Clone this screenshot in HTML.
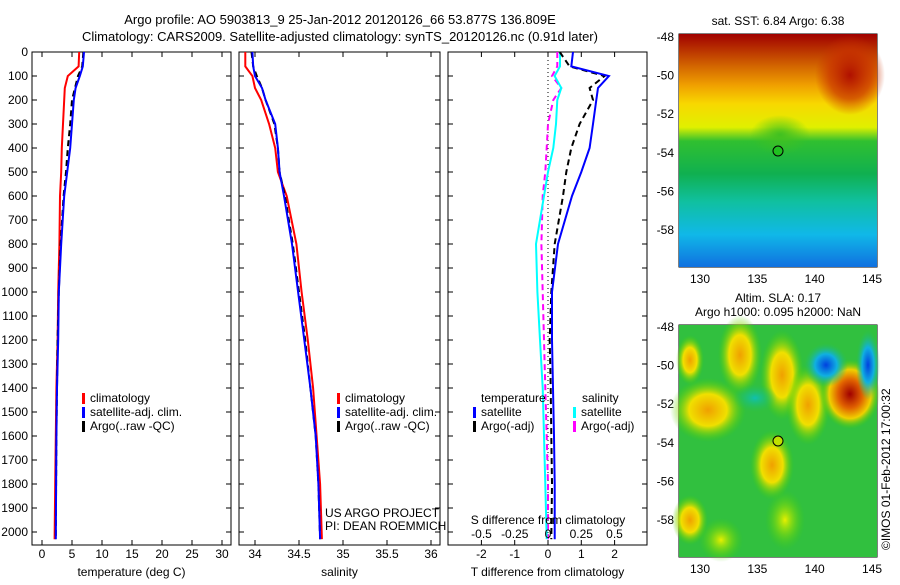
<!DOCTYPE html>
<html><head><meta charset="utf-8"><style>
body{margin:0;background:#fff;width:900px;height:580px;overflow:hidden}
svg{font-family:"Liberation Sans",sans-serif;font-size:12px}
</style></head><body>
<svg id="c" width="900" height="580">
<defs>
<linearGradient id="sst" x1="0" y1="0" x2="0" y2="1">
<stop offset="0" stop-color="#a00000"/><stop offset="0.13" stop-color="#d06000"/><stop offset="0.22" stop-color="#f0a000"/><stop offset="0.3" stop-color="#f8d800"/><stop offset="0.4" stop-color="#e0f000"/><stop offset="0.46" stop-color="#30c030"/><stop offset="0.6" stop-color="#10b050"/><stop offset="0.72" stop-color="#10c0a0"/><stop offset="0.86" stop-color="#10b8e8"/><stop offset="1" stop-color="#1070e0"/>
</linearGradient>
<radialGradient id="hot"><stop offset="0" stop-color="#a00000"/><stop offset="0.4" stop-color="#e06000"/><stop offset="0.7" stop-color="#f0d000"/><stop offset="1" stop-color="#40d000" stop-opacity="0"/></radialGradient>
<radialGradient id="warm"><stop offset="0" stop-color="#f0a000"/><stop offset="0.5" stop-color="#f0e000"/><stop offset="1" stop-color="#40d000" stop-opacity="0"/></radialGradient>
<radialGradient id="yel"><stop offset="0" stop-color="#e8f000"/><stop offset="1" stop-color="#40d000" stop-opacity="0"/></radialGradient>
<radialGradient id="cold"><stop offset="0" stop-color="#0040e0"/><stop offset="0.5" stop-color="#10b0e0"/><stop offset="1" stop-color="#20c060" stop-opacity="0"/></radialGradient>
<radialGradient id="teal"><stop offset="0" stop-color="#10c0b0"/><stop offset="1" stop-color="#20c060" stop-opacity="0"/></radialGradient>
<radialGradient id="red"><stop offset="0" stop-color="#b01000"/><stop offset="0.6" stop-color="#c83000" stop-opacity="0.7"/><stop offset="1" stop-color="#c83000" stop-opacity="0"/></radialGradient>
<radialGradient id="grn"><stop offset="0" stop-color="#40c020"/><stop offset="1" stop-color="#40c020" stop-opacity="0"/></radialGradient>
</defs>
<text x="340" y="24" text-anchor="middle" font-size="13">Argo profile: AO 5903813_9 25-Jan-2012 20120126_66 53.877S 136.809E</text>
<text x="340" y="41" text-anchor="middle" font-size="13">Climatology: CARS2009. Satellite-adjusted climatology: synTS_20120126.nc (0.91d later)</text>
<g id="g"></g>
<g>
<rect x="679" y="34" width="198" height="233" fill="url(#sst)"/>
<ellipse cx="850" cy="75" rx="35" ry="40" fill="url(#red)"/>
<ellipse cx="780" cy="135" rx="30" ry="20" fill="url(#grn)"/>
<circle cx="778" cy="151" r="5" fill="#20c020" stroke="#000"/>
</g>
<text x="778" y="25" text-anchor="middle">sat. SST: 6.84 Argo: 6.38</text>
<g>
<rect x="679" y="325" width="198" height="232" fill="#38c838"/>
<rect x="679" y="325" width="198" height="232" fill="#20b050" opacity="0.3"/>
<ellipse cx="708" cy="410" rx="38" ry="32" fill="url(#warm)"/>
<ellipse cx="740" cy="355" rx="22" ry="40" fill="url(#warm)"/>
<ellipse cx="782" cy="375" rx="22" ry="45" fill="url(#warm)"/>
<ellipse cx="808" cy="405" rx="22" ry="40" fill="url(#warm)"/>
<ellipse cx="772" cy="465" rx="22" ry="35" fill="url(#warm)"/>
<ellipse cx="785" cy="520" rx="20" ry="30" fill="url(#yel)"/>
<ellipse cx="721" cy="540" rx="22" ry="22" fill="url(#yel)"/>
<ellipse cx="690" cy="520" rx="18" ry="25" fill="url(#warm)"/>
<ellipse cx="690" cy="360" rx="14" ry="25" fill="url(#warm)"/>
<ellipse cx="850" cy="394" rx="30" ry="35" fill="url(#hot)"/>
<ellipse cx="826" cy="365" rx="22" ry="22" fill="url(#cold)"/>
<ellipse cx="868" cy="365" rx="12" ry="35" fill="url(#cold)"/>
<ellipse cx="755" cy="398" rx="22" ry="14" fill="url(#teal)"/>
<circle cx="778" cy="441" r="5" fill="#c0e000" stroke="#000"/>
</g>
<text x="778" y="302" text-anchor="middle">Altim. SLA: 0.17</text>
<text x="778" y="316" text-anchor="middle">Argo h1000: 0.095 h2000: NaN</text>
<text transform="translate(890,550) rotate(-90)">©IMOS 01-Feb-2012 17:00:32</text>
</svg>
<script>
const depths=[0,60,100,150,200,300,400,500,600,800,1000,1200,1400,1600,1800,2030];
const tClim=[6.2,6.1,4.3,3.8,3.7,3.5,3.3,3.2,3.0,2.9,2.7,2.6,2.4,2.3,2.2,2.1];
const tSat=[7.0,6.8,6.3,5.6,5.3,5.0,4.7,4.2,3.7,3.2,2.8,2.7,2.5,2.4,2.35,2.3];
const tArgo=[6.9,6.7,6.0,5.5,5.0,4.7,4.3,4.0,3.6,3.1,2.8,2.6,2.5,2.4,2.35,2.3];
const sClim=[33.89,33.89,33.97,34.0,34.07,34.16,34.23,34.26,34.36,34.47,34.53,34.6,34.66,34.7,34.74,34.76];
const sSat=[33.97,33.98,34.0,34.08,34.12,34.23,34.26,34.28,34.33,34.42,34.49,34.56,34.63,34.69,34.72,34.74];
const sArgo=[33.96,33.98,34.02,34.08,34.12,34.22,34.26,34.28,34.34,34.43,34.5,34.57,34.63,34.69,34.72,34.74];
const dTSat=[0.75,0.7,1.83,1.5,1.45,1.35,1.25,1.0,0.72,0.3,0.12,0.12,0.15,0.18,0.2,0.2];
const dTArgo=[0.35,0.65,1.7,1.25,1.35,0.95,0.7,0.55,0.45,0.2,0.1,0.05,0.08,0.1,0.12,0.1];
const dSSat=[0.09,0.09,0.05,0.1,0.07,0.06,0.04,0.0,-0.03,-0.09,-0.08,-0.06,-0.04,-0.03,-0.02,-0.01];
const dSArgo=[0.07,0.07,0.03,0.1,0.04,0.0,-0.01,-0.02,-0.04,-0.05,-0.04,-0.03,-0.02,-0.01,0.0,0.0];
const depthTicks=[0,100,200,300,400,500,600,700,800,900,1000,1100,1200,1300,1400,1500,1600,1700,1800,1900,2000];
const tTicks=[0,5,10,15,20,25,30];
const sTicks=[34,34.5,35,35.5,36];
const dTTicks=[-2,-1,0,1,2];
const dSTicks=[-0.5,-0.25,0,0.25,0.5];
const dSTickLabels=['-0.5','-0.25','0','0.25','0.5'];
const latTicks=[-48,-50,-52,-54,-56,-58];
const lonTicks=[130,135,140,145];

const NS='http://www.w3.org/2000/svg';
const G=document.getElementById('g');
function el(t,a,p){const e=document.createElementNS(NS,t);for(const k in a)e.setAttribute(k,a[k]);(p||G).appendChild(e);return e;}
function txt(x,y,s,anchor,p){const e=el('text',{x:x,y:y,'text-anchor':anchor||'middle'},p);e.textContent=s;return e;}
const yD=d=>52+d*0.24;
const PT=52,PB=545;
const panels=[
 {x0:32,x1:231,fx:v=>42+v*6,ticks:tTicks,label:'temperature (deg C)',name:'temperature-panel'},
 {x0:239,x1:440,fx:v=>255+(v-34)*88,ticks:sTicks,label:'salinity',name:'salinity-panel'},
 {x0:448,x1:647,fx:v=>548+v*33.3,ticks:dTTicks,label:'T difference from climatology',name:'difference-panel'}
];
panels.forEach((p,i)=>{
 const g=el('g',{});
 
 
 const r=el('rect',{x:p.x0,y:PT,width:p.x1-p.x0,height:PB-PT,fill:'none',stroke:'#000'},g);
 
 
 p.ticks.forEach(v=>{const x=p.fx(v);
  el('line',{x1:x,x2:x,y1:PB,y2:PB-5,stroke:'#000'},g);
  el('line',{x1:x,x2:x,y1:PT,y2:PT+5,stroke:'#000'},g);
  const t=txt(x,558,String(v),'middle',g);
  
  
 });
 depthTicks.forEach(d=>{const y=yD(d);
  el('line',{x1:p.x0,x2:p.x0+5,y1:y,y2:y,stroke:'#000'},g);
  el('line',{x1:p.x1,x2:p.x1-5,y1:y,y2:y,stroke:'#000'},g);
  if(i==0){const t=txt(28,y+4,String(d),'end',g);
   
   }
 });
 const xl=txt((p.x0+p.x1)/2,576,p.label,'middle',g);
 
 
});
function line(vals,fx,color,dash,w,name){
 const pts=vals.map((v,k)=>fx(v).toFixed(1)+','+yD(depths[k]).toFixed(1)).join(' ');
 const e=el('polyline',{points:pts,fill:'none',stroke:color,'stroke-width':w||2});
 if(dash)e.setAttribute('stroke-dasharray',dash);
 
 
}
const fT=panels[0].fx,fS=panels[1].fx,fD=panels[2].fx,fDS=v=>548+v*133;
line(tClim,fT,'#f00',null,2,'temp-climatology-line');
line(tArgo,fT,'#000','6,4',2,'temp-argo-line');
line(tSat,fT,'#00f',null,2,'temp-satellite-line');
line(sClim,fS,'#f00',null,2,'sal-climatology-line');
line(sArgo,fS,'#000','6,4',2,'sal-argo-line');
line(sSat,fS,'#00f',null,2,'sal-satellite-line');
const zl=el('line',{x1:548,x2:548,y1:PT,y2:PB,stroke:'#000','stroke-dasharray':'1,3'});


line(dSArgo,fDS,'#f0f','6,4',2,'sal-diff-argo-line');
line(dSSat,fDS,'#0ff',null,2,'sal-diff-satellite-line');
line(dTArgo,fD,'#000','6,4',2,'temp-diff-argo-line');
line(dTSat,fD,'#00f',null,2,'temp-diff-satellite-line');
dSTicks.forEach((v,k)=>{const t=txt(fDS(v),538,dSTickLabels[k]);
 
 });
const st=txt(548,524,'S difference from climatology');


function legend(x,y,color,label,name){
 const g=el('g',{});
 
 
 el('rect',{x:x,y:y-9,width:3,height:11,fill:color},g);
 txt(x+8,y,label,'start',g);
}
[[82,'#f00','climatology'],[82,'#00f','satellite-adj. clim.'],[82,'#000','Argo(..raw -QC)']].forEach((l,k)=>{
 legend(l[0],402+k*14,l[1],l[2],'temp-legend-entry');
 legend(337,402+k*14,l[1],l[2],'sal-legend-entry');
});
const lt=txt(481,402,'temperature','start');
const ls=txt(582,402,'salinity','start');
legend(473,416,'#00f','satellite','temp-diff-legend-satellite');
legend(473,430,'#000','Argo(-adj)','temp-diff-legend-argo');
legend(573,416,'#0ff','satellite','sal-diff-legend-satellite');
legend(573,430,'#f0f','Argo(-adj)','sal-diff-legend-argo');
const u1=txt(325,517,'US ARGO PROJECT','start');
const u2=txt(325,530,'PI: DEAN ROEMMICH','start');
const lonX=v=>700+(v-130)*11.47;
[[34,267,37],[325,557,327]].forEach((m,mi)=>{
 const g=el('g',{});
 
 
 el('rect',{x:679,y:m[0],width:198,height:m[1]-m[0],fill:'none',stroke:'#000'},g);
 latTicks.forEach(v=>{const y=m[2]+(-48-v)*19.3;
  el('line',{x1:679,x2:683,y1:y,y2:y,stroke:'#000'},g);
  el('line',{x1:877,x2:873,y1:y,y2:y,stroke:'#000'},g);
  txt(674,y+4,String(v),'end',g);});
 lonTicks.forEach(v=>{const x=lonX(v);
  el('line',{x1:x,x2:x,y1:m[1],y2:m[1]-4,stroke:'#000'},g);
  el('line',{x1:x,x2:x,y1:m[0],y2:m[0]+4,stroke:'#000'},g);
  txt(x,m[1]+16,String(v),'middle',g);});
});
</script>
</body></html>
